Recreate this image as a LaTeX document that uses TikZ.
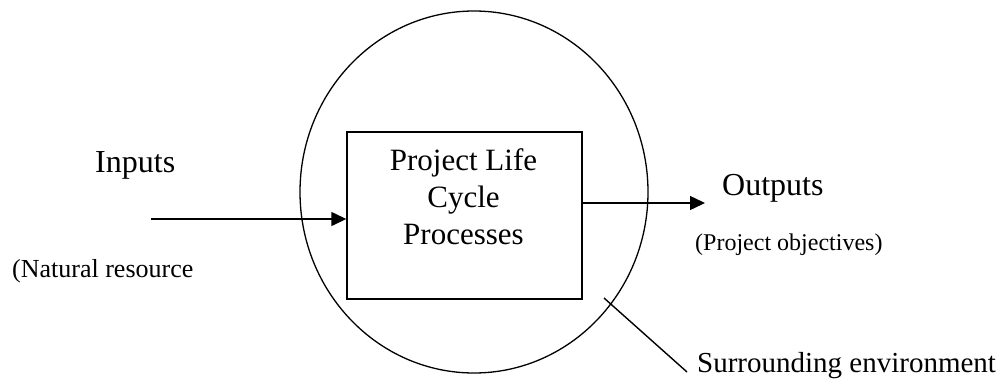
\documentclass[tikz,border=0pt]{standalone}
\usepackage{fontspec}
\setmainfont{Liberation Serif}
\usetikzlibrary{shapes.geometric,arrows.meta}
\begin{document}
\begin{tikzpicture}[x=1pt,y=-1pt,
  lbl/.style={inner sep=0pt,anchor=base west},
  conn/.style={line width=1.4pt},
  arr/.style={conn,-{Triangle[length=15pt,width=14pt]}}]
\useasboundingbox (0,0) rectangle (1003,388);
\node[ellipse,draw,line width=1.3pt,inner sep=0pt,minimum width=348pt,minimum height=362pt] (env) at (474,192) {};
\node[draw,line width=1.4pt,minimum width=235pt,minimum height=167pt,inner sep=0pt] (box) at (464.5,215.5) {};
\node[inner sep=0pt,align=center,font=\fontsize{31}{37}\selectfont] (boxtext) at (463.5,197) {Project Life\\Cycle\\Processes};
\node[lbl,font=\fontsize{32}{38}\selectfont] (inputs) at (95,172) {Inputs};
\node[lbl,font=\fontsize{26}{30}\selectfont] (natural) at (12,277) {(Natural resource};
\node[lbl,font=\fontsize{32}{38}\selectfont] (outputs) at (722,195) {Outputs};
\node[lbl,font=\fontsize{24}{28}\selectfont] (objectives) at (695,250) {(Project objectives)};
\node[lbl,font=\fontsize{29}{34}\selectfont] (surr) at (697,372) {Surrounding environment};
\coordinate (inStart) at (151,219);
\coordinate (outEnd) at (705,203);
\coordinate (envStart) at (604,298);
\coordinate (envEnd) at (687,372);
\draw[arr] (inStart) -- (box.west |- inStart);
\draw[arr] (box.east |- outEnd) -- (outEnd);
\draw[conn] (envStart) -- (envEnd);
\end{tikzpicture}
\end{document}
